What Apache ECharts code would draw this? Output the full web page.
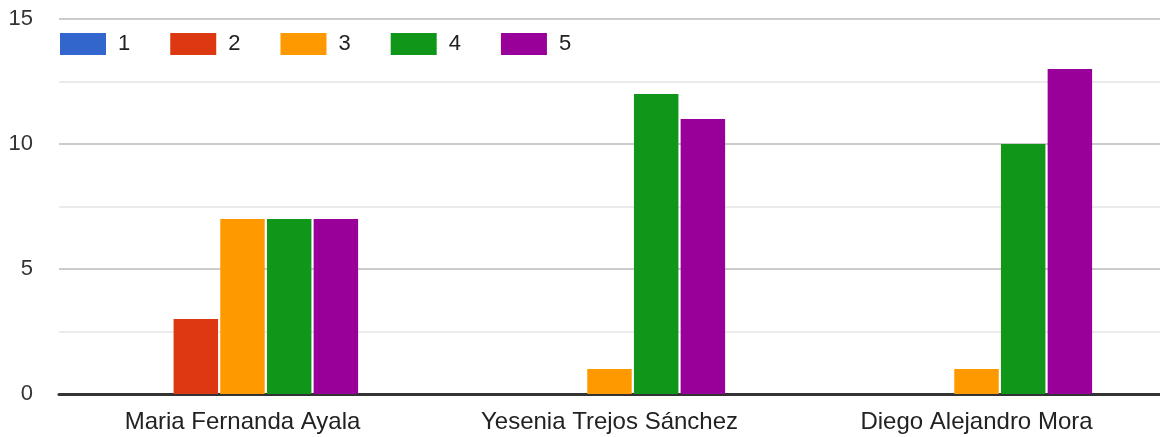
<!DOCTYPE html>
<html>
<head>
<meta charset="utf-8">
<script src="https://cdn.jsdelivr.net/npm/echarts@6/dist/echarts.min.js"></script>
<style>
  html, body { margin: 0; padding: 0; background: #fff; }
  #chart { width: 1160px; height: 437px; }
</style>
</head>
<body>
<div id="chart"></div>
<script>
var categories = ['Maria Fernanda Ayala', 'Yesenia Trejos Sánchez', 'Diego Alejandro Mora'];
var seriesNames = ['1', '2', '3', '4', '5'];
var colors = ['#3366cc', '#dc3912', '#ff9900', '#109618', '#990099'];
var values1 = [0, 0, 0];
var values2 = [3, 0, 0];
var values3 = [7, 1, 1];
var values4 = [7, 12, 10];
var values5 = [7, 11, 13];
var allValues = [values1, values2, values3, values4, values5];

var chart = echarts.init(document.getElementById('chart'));

var series = seriesNames.map(function (name, i) {
  return {
    name: name,
    type: 'bar',
    data: allValues[i],
    barGap: '5%',
    barCategoryGap: '37%',
    itemStyle: {
      color: colors[i],
      borderWidth: 0
    }
  };
});

chart.setOption({
  animation: false,
  textStyle: { fontFamily: '"Liberation Sans", Arial, sans-serif' },
  grid: { left: 59, right: 0, top: 19, bottom: 43 },
  legend: {
    left: 55,
    top: 28,
    itemWidth: 46,
    itemHeight: 22,
    itemGap: 40,
    icon: 'rect',
    textStyle: { fontSize: 22, lineHeight: 22, color: '#222', padding: [0, 0, 0, 7] },
    data: seriesNames
  },
  xAxis: {
    type: 'category',
    data: categories,
    axisLine: { lineStyle: { color: '#333', width: 3 } },
    axisTick: { show: false },
    axisLabel: { fontSize: 24, color: '#222', margin: 16 }
  },
  yAxis: {
    type: 'value',
    min: 0,
    max: 15,
    interval: 5,
    axisLine: { show: false },
    axisTick: { show: false },
    axisLabel: { fontSize: 22, color: '#333', margin: 26 },
    splitLine: { lineStyle: { color: '#cccccc', width: 2 } },
    minorTick: { show: false, splitNumber: 2 },
    minorSplitLine: { show: true, lineStyle: { color: '#ebebeb', width: 2 } }
  },
  series: series
});
</script>
</body>
</html>
